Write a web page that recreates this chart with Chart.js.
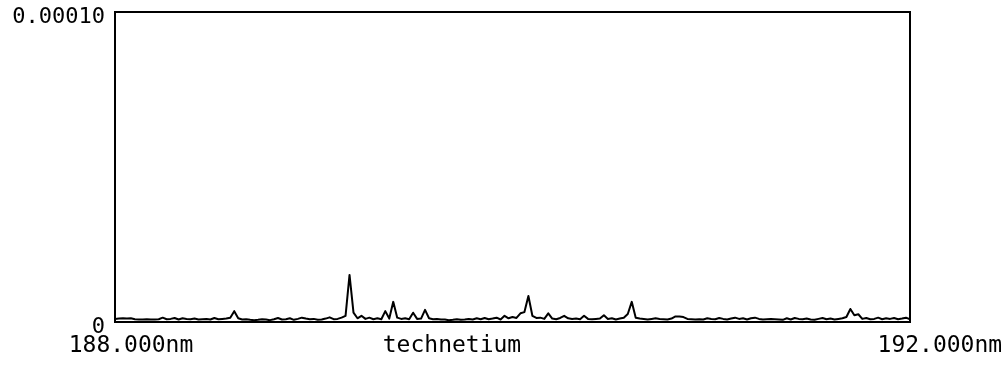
<!DOCTYPE html>
<html>
<head>
<meta charset="utf-8">
<script src="https://cdn.jsdelivr.net/npm/chart.js@4.4.1/dist/chart.umd.min.js"></script>
<style>
  html, body { margin: 0; padding: 0; background: #fff; }
  #wrap { width: 1003px; height: 369px; }
</style>
</head>
<body>
<div id="wrap"><canvas id="spectrum" width="1003" height="369"></canvas></div>
<script>
// scan range (nm) and sampling step
const startNm = 188.0;
const endNm = 192.0;
const stepNm = 0.02;

// intensity per sample, in units of 1e-6
const intensityE6 = [
  1.0, 1.1, 1.2, 1.1, 1.2, 0.9, 0.8, 0.8, 0.9, 0.8,
  0.8, 0.9, 1.4, 0.9, 1.0, 1.3, 0.8, 1.2, 1.0, 0.9,
  1.1, 0.8, 0.9, 1.0, 0.8, 1.3, 0.9, 1.0, 1.1, 1.4,
  3.5, 1.2, 0.8, 0.9, 0.7, 0.6, 0.7, 0.9, 0.8, 0.6,
  0.9, 1.3, 0.8, 0.9, 1.2, 0.7, 1.0, 1.4, 1.1, 0.9,
  1.0, 0.7, 0.8, 1.1, 1.5, 0.9, 1.0, 1.4, 2.0, 15.2,
  3.0, 1.2, 2.0, 1.0, 1.4, 0.9, 1.2, 0.9, 3.5, 1.1,
  6.5, 1.4, 1.0, 1.2, 0.9, 3.0, 1.0, 1.1, 3.9, 1.2,
  0.9, 1.0, 0.8, 0.8, 0.6, 0.7, 0.9, 0.7, 0.8, 1.0,
  0.8, 1.2, 0.9, 1.3, 0.9, 1.1, 1.4, 0.8, 2.0, 1.2,
  1.6, 1.3, 2.8, 3.2, 8.4, 2.0, 1.3, 1.4, 1.0, 2.8,
  1.1, 0.9, 1.3, 2.0, 1.2, 1.0, 1.1, 0.9, 2.0, 1.0,
  0.9, 1.0, 1.1, 2.2, 1.0, 1.2, 0.8, 1.1, 1.4, 2.6,
  6.5, 1.4, 1.1, 1.0, 0.8, 1.0, 1.2, 1.0, 0.9, 0.8,
  1.1, 1.8, 1.8, 1.6, 1.0, 0.9, 0.8, 0.9, 0.8, 1.2,
  1.0, 0.9, 1.3, 1.0, 0.8, 1.1, 1.4, 1.0, 1.2, 0.8,
  1.2, 1.4, 1.0, 0.8, 0.9, 1.0, 0.9, 0.8, 0.7, 1.2,
  0.8, 1.3, 1.0, 0.9, 1.1, 0.8, 0.7, 1.0, 1.3, 0.9,
  1.1, 0.8, 1.0, 1.2, 1.6, 4.2, 2.2, 2.5, 1.0, 1.3,
  0.9, 1.0, 1.4, 0.9, 1.2, 1.0, 1.3, 0.9, 1.1, 1.4,
  0.9
];

// axis labels
const yTickValues = [0, 0.0001];
const yTickLabels = ['0', '0.00010'];
const xTickValues = [188.0, 189.615, 192.0];
const xTickLabels = ['188.000nm', 'technetium', '  192.000nm'];

const points = intensityE6.map((v, i) => ({ x: startNm + i * stepNm, y: v * 1e-6 }));

// closes the plot box on top and right
const frame = {
  id: 'frame',
  afterDatasetsDraw(chart) {
    const { ctx, chartArea: a } = chart;
    ctx.save();
    ctx.strokeStyle = '#000';
    ctx.lineWidth = 2;
    ctx.strokeRect(a.left, a.top, a.right - a.left, a.bottom - a.top);
    ctx.restore();
  },
};

const ctx = document.getElementById('spectrum').getContext('2d');
new Chart(ctx, {
  type: 'line',
  data: {
    datasets: [{
      data: points,
      borderColor: '#000',
      borderWidth: 2,
      borderJoinStyle: 'round',
      pointRadius: 0,
      tension: 0,
      fill: false,
    }],
  },
  options: {
    responsive: false,
    animation: false,
    events: [],
    layout: { padding: { top: 12, right: 93, left: 0, bottom: 0 } },
    plugins: { legend: { display: false }, tooltip: { enabled: false } },
    scales: {
      x: {
        type: 'linear',
        min: startNm,
        max: endNm,
        afterBuildTicks: (scale) => { scale.ticks = xTickValues.map((value) => ({ value })); },
        afterFit: (scale) => {
          scale.height = 47;
          scale.paddingLeft = 0;
          scale.paddingRight = 0;
        },
        grid: { display: false },
        border: { display: false },
        ticks: {
          color: '#000',
          font: { family: 'DejaVu Sans Mono', size: 23 },
          padding: 2,
          labelOffset: 16,
          maxRotation: 0,
          autoSkip: false,
          callback: (value, index) => xTickLabels[index],
        },
      },
      y: {
        min: 0,
        max: 0.0001,
        afterBuildTicks: (scale) => { scale.ticks = yTickValues.map((value) => ({ value })); },
        afterFit: (scale) => {
          scale.width = 115;
          scale.paddingTop = 0;
          scale.paddingBottom = 0;
        },
        grid: { display: false },
        border: { display: false },
        ticks: {
          color: '#000',
          font: { family: 'DejaVu Sans Mono', size: 22 },
          padding: 2,
          labelOffset: 5,
          callback: (value, index) => yTickLabels[index],
        },
      },
    },
  },
  plugins: [frame],
});
</script>
</body>
</html>
